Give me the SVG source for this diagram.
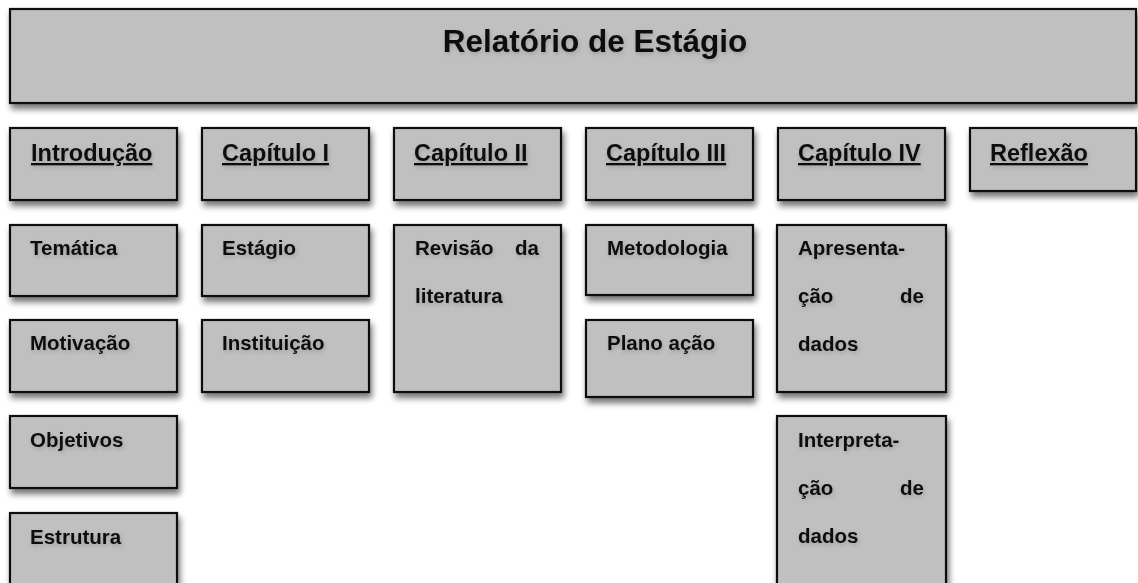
<svg xmlns="http://www.w3.org/2000/svg" width="1138" height="583" viewBox="0 0 1138 583">
<defs>
<filter id="sh" x="-10%" y="-10%" width="130%" height="140%">
<feDropShadow dx="2" dy="5" stdDeviation="3" flood-color="#000" flood-opacity="0.55"/>
</filter>
<filter id="tsh" x="-10%" y="-30%" width="130%" height="180%">
<feDropShadow dx="1" dy="2" stdDeviation="2" flood-color="#000" flood-opacity="0.18"/>
</filter>
</defs>
<style>
.box{fill:#c0c0c0;stroke:#111;stroke-width:2.2;filter:url(#sh)}
.t{font-family:"Liberation Sans",Arial,sans-serif;font-weight:bold;fill:#111;filter:url(#tsh)}
.title{font-size:31.5px}
.h{font-size:23.5px;text-decoration:underline}
.b{font-size:20.5px}
</style>
<rect width="1138" height="583" fill="#fff"/>
<g id="title"><rect class="box" x="10" y="9" width="1126" height="94"/><text class="t title" x="595" y="52" text-anchor="middle">Relatório de Estágio</text></g>
<g id="h-intro"><rect class="box" x="10" y="128" width="167" height="72"/><text class="t h" x="31" y="161">Introdução</text></g>
<g id="h-cap1"><rect class="box" x="202" y="128" width="167" height="72"/><text class="t h" x="222" y="161">Capítulo I</text></g>
<g id="h-cap2"><rect class="box" x="394" y="128" width="167" height="72"/><text class="t h" x="414" y="161">Capítulo II</text></g>
<g id="h-cap3"><rect class="box" x="586" y="128" width="167" height="72"/><text class="t h" x="606" y="161">Capítulo III</text></g>
<g id="h-cap4"><rect class="box" x="778" y="128" width="167" height="72"/><text class="t h" x="798" y="161">Capítulo IV</text></g>
<g id="h-refl"><rect class="box" x="970" y="128" width="166" height="63"/><text class="t h" x="990" y="161">Reflexão</text></g>
<g id="tematica"><rect class="box" x="10" y="225" width="167" height="71"/><text class="t b" x="30" y="255">Temática</text></g>
<g id="motivacao"><rect class="box" x="10" y="320" width="167" height="72"/><text class="t b" x="30" y="350">Motivação</text></g>
<g id="objetivos"><rect class="box" x="10" y="416" width="167" height="72"/><text class="t b" x="30" y="447">Objetivos</text></g>
<g id="estrutura"><rect class="box" x="10" y="513" width="167" height="100"/><text class="t b" x="30" y="544">Estrutura</text></g>
<g id="estagio"><rect class="box" x="202" y="225" width="167" height="71"/><text class="t b" x="222" y="255">Estágio</text></g>
<g id="instituicao"><rect class="box" x="202" y="320" width="167" height="72"/><text class="t b" x="222" y="350">Instituição</text></g>
<g id="revisao"><rect class="box" x="394" y="225" width="167" height="167"/><text class="t b" x="415" y="255">Revisão</text><text class="t b" x="539" y="255" text-anchor="end">da</text><text class="t b" x="415" y="303">literatura</text></g>
<g id="metodologia"><rect class="box" x="586" y="225" width="167" height="70"/><text class="t b" x="607" y="255">Metodologia</text></g>
<g id="plano"><rect class="box" x="586" y="320" width="167" height="77"/><text class="t b" x="607" y="350">Plano ação</text></g>
<g id="apresentacao"><rect class="box" x="777" y="225" width="169" height="167"/><text class="t b" x="798" y="255">Apresenta-</text><text class="t b" x="798" y="303">ção</text><text class="t b" x="924" y="303" text-anchor="end">de</text><text class="t b" x="798" y="351">dados</text></g>
<g id="interpretacao"><rect class="box" x="777" y="416" width="169" height="200"/><text class="t b" x="798" y="447">Interpreta-</text><text class="t b" x="798" y="495">ção</text><text class="t b" x="924" y="495" text-anchor="end">de</text><text class="t b" x="798" y="543">dados</text></g>
<g id="connectors"></g>
</svg>
